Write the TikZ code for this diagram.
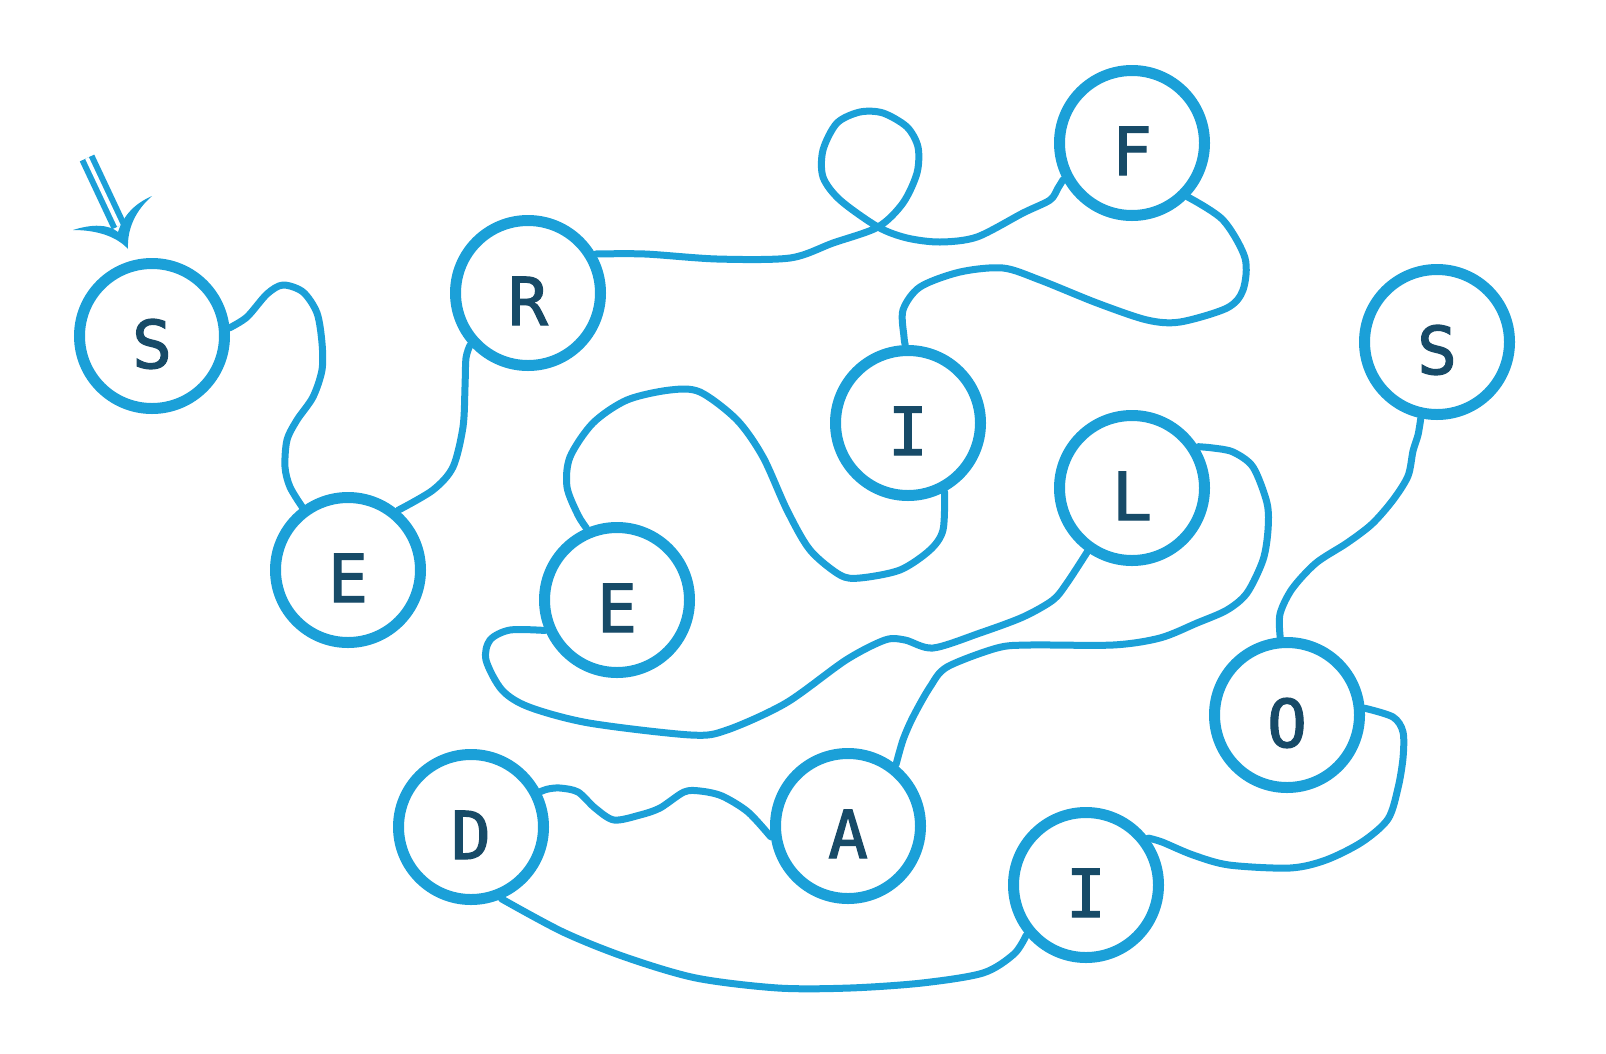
\documentclass[tikz,border=0pt]{standalone}
\usepackage{fontspec}
\newfontfamily\letterfont{DejaVu Sans Mono}[FakeBold=2]
\definecolor{mazeblue}{HTML}{1BA0D8}
\definecolor{letterink}{HTML}{174B68}
\tikzset{
  letter/.style={circle, draw=mazeblue, line width=11pt, fill=white,
    minimum size=145pt, inner sep=0pt, text=letterink,
    font=\letterfont\fontsize{66}{66}\selectfont,
    text height=64pt, text depth=0pt},
  trail/.style={mazeblue, line width=7pt, line cap=round, line join=round},
}
\begin{document}
\begin{tikzpicture}[x=1pt, y=-1pt]
  \useasboundingbox (0,0) rectangle (1606,1053);
  % letters
  \node[letter] (s1) at (152,336) {S};
  \node[letter] (e1) at (348,570) {E};
  \node[letter] (r) at (528,293) {R};
  \node[letter] (f) at (1132,143) {F};
  \node[letter] (i1) at (908,423) {I};
  \node[letter] (e2) at (617,600) {E};
  \node[letter] (l) at (1132,488) {L};
  \node[letter] (s2) at (1437,342) {S};
  \node[letter] (o) at (1287,715) {O};
  \node[letter] (d) at (471,827) {D};
  \node[letter] (a) at (848,826) {A};
  \node[letter] (i2) at (1086,885) {I};
  % start arrow
  \coordinate (arrowtail) at (87,158);
  \draw[mazeblue, line width=6pt, double=white, double distance=4pt] (arrowtail) -- (119,226);
  \fill[mazeblue] (73,230) .. controls (100,230) and (118,238) .. (128,249)
    .. controls (127,228) and (136,210) .. (152,196)
    .. controls (136,203) and (124,214) .. (118,232)
    .. controls (108,224) and (92,224) .. cycle;
  % trails
  \draw[trail] plot[smooth] coordinates {(s1.6) (247,317) (267,294) (283,285) (303,292) (317,313) (322,343) (322,370) (313,397) (297,420) (287,440) (285,467) (290,487) (e1.126)};
  \draw[trail] plot[smooth] coordinates {(e1.50) (433,490) (453,467) (463,427) (465,387) (466,358) (r.222)};
  \draw[trail] plot[smooth] coordinates {(r.30) (645,254) (717,259) (790,258) (833,243) (878,227) (903,203) (917,173) (918,147) (907,127) (883,113) (860,112) (837,123) (823,150) (823,177) (840,200) (878,227) (907,238) (940,242) (977,237) (1023,213) (1050,200) (1058,188) (f.208)};
  \draw[trail] plot[smooth] coordinates {(f.316) (1223,220) (1245,258) (1243,290) (1227,308) (1180,322) (1147,320) (1097,303) (1040,280) (1003,268) (960,272) (920,287) (903,310) (904,337) (i1.92)};
  \draw[trail] plot[smooth] coordinates {(i1.298) (943,530) (930,550) (900,570) (860,578) (840,575) (810,550) (787,510) (763,457) (737,420) (700,392) (670,390) (627,400) (593,423) (570,457) (567,487) (578,515) (e2.113)};
  \draw[trail] plot[smooth] coordinates {(e2.203) (510,630) (490,640) (486,660) (502,690) (529,707) (589,723) (691,735) (727,730) (786,703) (846,660) (885,640) (905,640) (933,648) (980,633) (1023,617) (1053,600) (1067,583) (l.235)};
  \draw[trail] plot[smooth] coordinates {(l.32) (1213,448) (1233,452) (1253,467) (1267,503) (1268,530) (1263,560) (1247,593) (1227,610) (1197,623) (1160,638) (1113,645) (1030,645) (997,648) (947,667) (930,687) (913,717) (903,740) (a.52)};
  \draw[trail] plot[smooth] coordinates {(a.188) (748,812) (722,796) (700,791) (684,792) (660,808) (640,815) (614,820) (595,808) (578,792) (560,788) (548,789) (d.27)};
  \draw[trail] plot[smooth] coordinates {(d.293) (563,932) (625,957) (696,978) (778,988) (850,988) (922,983) (983,973) (1014,954) (i2.220)};
  \draw[trail] plot[smooth] coordinates {(i2.37) (1162,842) (1193,855) (1229,865) (1290,868) (1326,860) (1362,842) (1388,819) (1398,788) (1403,758) (1403,732) (1393,717) (o.5)};
  \draw[trail] plot[smooth] coordinates {(o.95) (1280,614) (1292,589) (1316,563) (1347,543) (1372,524) (1393,500) (1408,476) (1413,451) (1418,435) (s2.258)};
\end{tikzpicture}
\end{document}
